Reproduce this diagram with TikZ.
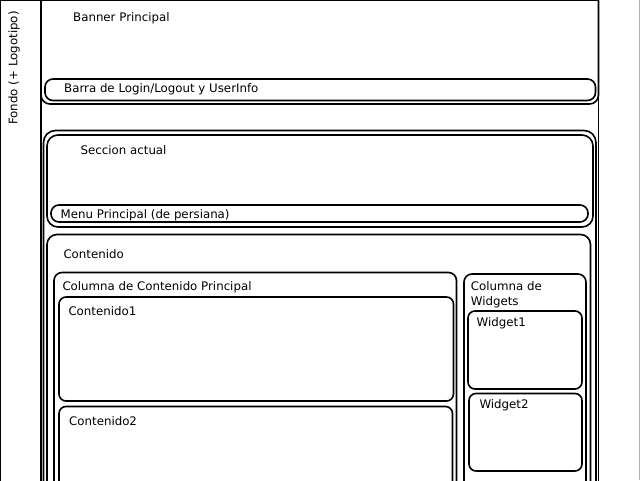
\documentclass[tikz,border=0pt]{standalone}
\usepackage{fontspec}
\setmainfont{DejaVu Sans}
\begin{document}
\begin{tikzpicture}[x=1pt,y=-1pt,
  box/.style={draw=black,line width=1.6pt,rounded corners=#1},
  box/.default=8pt,
  lbl/.style={anchor=base west,inner sep=0pt,font=\fontsize{11.8}{14}\selectfont}]
\useasboundingbox (0,0) rectangle (640,480);
\begin{scope}
\clip (0,0) rectangle (640,480);
% background frame
\draw[line width=1.2pt] (0.5,490) -- (0.5,0.5) -- (599,0.5);
\draw[gray!60,line width=1pt] (639.5,0) -- (639.5,480);
\draw[line width=1.6pt] (41,0) -- (41,490);
\draw[line width=1.6pt] (598.5,0) -- (598.5,490);
% banner
\draw[box=9pt] (41,-20) rectangle (598.5,104);
\draw[box=8pt] (45,79) rectangle (595.5,100.5);
% seccion
\draw[box=12pt] (43.5,130.5) rectangle (596,500);
\draw[box=11pt] (47,135) rectangle (593,227);
\draw[box=8pt] (51,205) rectangle (588,222);
% contenido
\draw[box=10pt] (47,234.5) rectangle (590.5,500);
\draw[box=8pt] (54,272.5) rectangle (456.5,500);
\draw[box=7pt] (59,297) rectangle (453.5,401);
\draw[box=7pt] (59,406.5) rectangle (452.5,500);
\draw[box=8pt] (464,274) rectangle (586,500);
\draw[box=7pt] (468,311) rectangle (582,389);
\draw[box=7pt] (469,393.5) rectangle (582,471);
\end{scope}
% labels
\node[rotate=90,inner sep=0pt,font=\fontsize{11.8}{14}\selectfont] (fondo) at (14,68) {Fondo (+ Logotipo)};
\node[lbl] (banner) at (73,21.7) {Banner Principal};
\node[lbl] (barra) at (64,92.3) {Barra de Login/Logout y UserInfo};
\node[lbl] (seccion) at (80.5,154.3) {Seccion actual};
\node[lbl] (menu) at (60.5,218.3) {Menu Principal (de persiana)};
\node[lbl] (cont) at (63.3,258.3) {Contenido};
\node[lbl] (colp) at (62.3,290.7) {Columna de Contenido Principal};
\node[lbl] (c1) at (68.3,315.7) {Contenido1};
\node[lbl] (c2) at (69,425.7) {Contenido2};
\node[lbl] (colw) at (470.7,290) {Columna de};
\node[lbl] (colw2) at (470.7,305.5) {Widgets};
\node[lbl] (w1) at (476.5,326.7) {Widget1};
\node[lbl] (w2) at (479.3,408.3) {Widget2};
\end{tikzpicture}
\end{document}
